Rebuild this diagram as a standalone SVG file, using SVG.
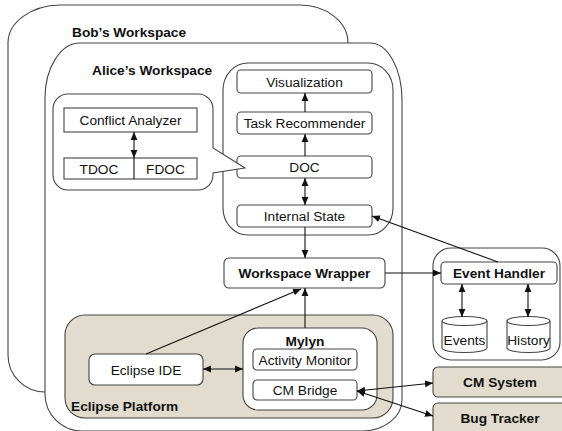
<svg xmlns="http://www.w3.org/2000/svg" width="562" height="431" viewBox="0 0 562 431">
<defs>
<marker id="ah" viewBox="0 0 8 8" refX="8" refY="4" markerWidth="8" markerHeight="8" markerUnits="userSpaceOnUse" orient="auto-start-reverse">
<path d="M0,0.6 L8,4 L0,7.4 Z" fill="#111"/>
</marker>
<style>
.ws{fill:#fff;stroke:#444;stroke-width:1.1}
.box{fill:#fff;stroke:#444;stroke-width:1.1}
.plat{fill:#e1dccd;stroke:#444;stroke-width:1.1}
.t{font-family:"Liberation Sans",Arial,sans-serif;font-size:13.7px;fill:#111;text-anchor:middle}
.b{font-weight:bold}
.l{text-anchor:start}
.c{fill:none;stroke:#111;stroke-width:1.1}
.e{marker-end:url(#ah)}
.s{marker-start:url(#ah)}
</style>
</defs>
<g id="bob">
<path class="ws" d="M60,5 H300 A48,38 0 0 1 348,43 V392 H45 A37,37 0 0 1 8,355 V43 A53,38 0 0 1 60,5 Z"/>
<text class="t b l" x="72" y="37">Bob’s Workspace</text>
</g>
<g id="alice">
<path class="ws" d="M80,43 H370 A32,57 0 0 1 402,100 V400 A40,31 0 0 1 362,431 H82 A37,37 0 0 1 45,394 V98 A35,55 0 0 1 80,43 Z"/>
<text class="t b l" x="92" y="75">Alice’s Workspace</text>
</g>
<g id="analysis">
<rect class="box" x="223" y="63" width="170" height="172" rx="25" ry="27"/>
</g>
<g id="visualization">
<rect class="box" x="237" y="70" width="135" height="23" rx="4"/>
<text class="t" x="304.5" y="86.5">Visualization</text>
</g>
<g id="task-recommender">
<rect class="box" x="237" y="112" width="135" height="22" rx="4"/>
<text class="t" x="304.5" y="128">Task Recommender</text>
</g>
<g id="doc">
<rect class="box" x="237" y="156" width="135" height="22" rx="4"/>
<text class="t" x="304.5" y="172">DOC</text>
</g>
<g id="internal-state">
<rect class="box" x="237" y="205" width="135" height="22" rx="4"/>
<text class="t" x="304.5" y="221">Internal State</text>
</g>
<g id="conflict-callout">
<path class="box" d="M68,94 H198 A15,15 0 0 1 213,109 V148 L245,168 L213,173 V175 A15,15 0 0 1 198,190 H68 A15,15 0 0 1 53,175 V109 A15,15 0 0 1 68,94 Z"/>
</g>
<g id="conflict-analyzer">
<rect class="box" x="64" y="108" width="133" height="24"/>
<text class="t" x="130.5" y="125">Conflict Analyzer</text>
</g>
<g id="tdoc-fdoc">
<rect class="box" x="64" y="158" width="133" height="21"/>
<line class="c" x1="134" y1="158" x2="134" y2="179"/>
<text class="t" x="99" y="173.5">TDOC</text>
<text class="t" x="165.5" y="173.5">FDOC</text>
</g>
<g id="workspace-wrapper">
<rect class="box" x="224" y="258" width="161" height="30" rx="5"/>
<text class="t b" x="304.5" y="278">Workspace Wrapper</text>
</g>
<g id="event-container">
<rect class="box" x="433" y="248" width="127" height="112" rx="18"/>
</g>
<g id="event-handler">
<rect class="box" x="441" y="262" width="116" height="22" rx="4"/>
<text class="t b" x="499" y="278">Event Handler</text>
</g>
<g id="events">
<path class="box" d="M442,321 A22.5,4.5 0 0 1 487,321 V348 A22.5,4.5 0 0 1 442,348 Z"/>
<path class="c" style="stroke:#444" d="M442,321 A22.5,4.5 0 0 0 487,321"/>
<text class="t" x="464.5" y="345">Events</text>
</g>
<g id="history">
<path class="box" d="M507,321 A21.5,4.5 0 0 1 550,321 V348 A21.5,4.5 0 0 1 507,348 Z"/>
<path class="c" style="stroke:#444" d="M507,321 A21.5,4.5 0 0 0 550,321"/>
<text class="t" x="528.5" y="345">History</text>
</g>
<g id="eclipse-platform">
<rect class="plat" x="65" y="315" width="328" height="103" rx="20"/>
<text class="t b l" x="71" y="411">Eclipse Platform</text>
</g>
<g id="eclipse-ide">
<rect class="box" x="89" y="354" width="114" height="31" rx="6"/>
<text class="t" x="146" y="374.5">Eclipse IDE</text>
</g>
<g id="mylyn">
<rect class="box" x="243" y="328" width="134" height="82" rx="15"/>
<text class="t b" x="305" y="346">Mylyn</text>
</g>
<g id="activity-monitor">
<rect class="box" x="253" y="349" width="104" height="21" rx="4"/>
<text class="t" x="305" y="364.5">Activity Monitor</text>
</g>
<g id="cm-bridge">
<rect class="box" x="253" y="380" width="104" height="20" rx="4"/>
<text class="t" x="305" y="395">CM Bridge</text>
</g>
<g id="cm-system">
<rect class="plat" x="433" y="367" width="135" height="30" rx="5"/>
<text class="t b" x="500" y="387">CM System</text>
</g>
<g id="bug-tracker">
<rect class="plat" x="433" y="403" width="135" height="40" rx="5"/>
<text class="t b" x="500" y="423">Bug Tracker</text>
</g>
<g id="connectors">
<line class="c e" x1="305" y1="112" x2="305" y2="93"/>
<line class="c e" x1="305" y1="156" x2="305" y2="134"/>
<line class="c e s" x1="305" y1="178" x2="305" y2="205"/>
<line class="c e s" x1="134" y1="132" x2="134" y2="158"/>
<line class="c e" x1="305" y1="227" x2="305" y2="258"/>
<line class="c e" x1="305" y1="328" x2="305" y2="288"/>
<line class="c e" x1="146" y1="354" x2="301" y2="289"/>
<line class="c e" x1="385" y1="273" x2="441" y2="273"/>
<line class="c e" x1="498" y1="262" x2="372" y2="216"/>
<line class="c e s" x1="462" y1="284" x2="462" y2="317"/>
<line class="c e s" x1="528" y1="284" x2="528" y2="317"/>
<line class="c e s" x1="203" y1="369" x2="243" y2="369"/>
<line class="c e s" x1="357" y1="391" x2="433" y2="383"/>
<line class="c e s" x1="357" y1="391" x2="433" y2="416"/>
</g>
</svg>
